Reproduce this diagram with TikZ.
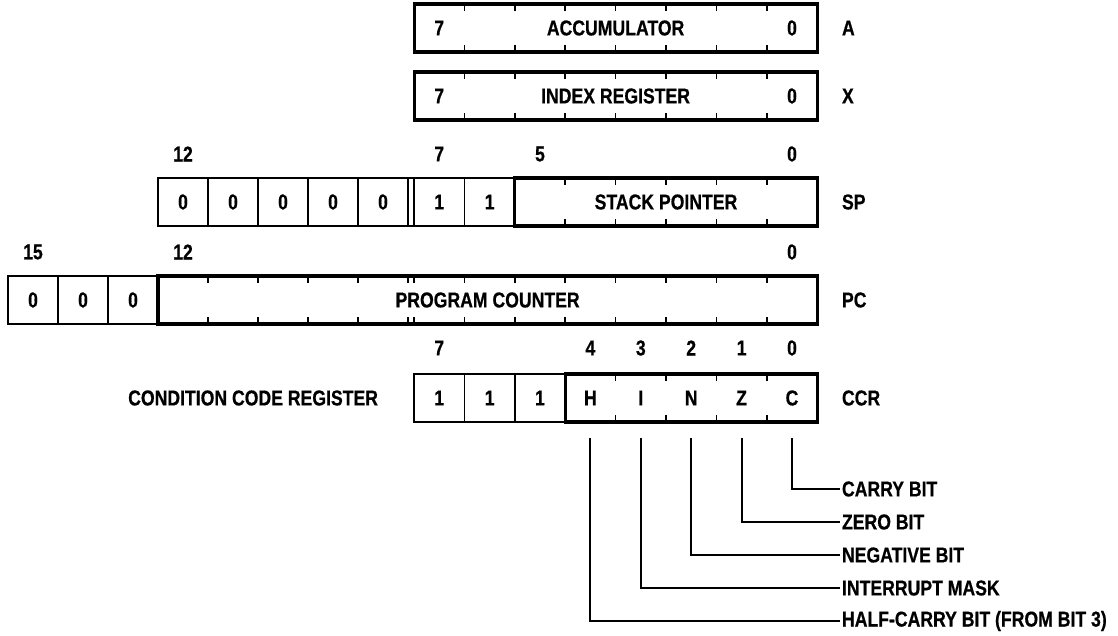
\documentclass[tikz,border=0pt]{standalone}
\usepackage{fontspec}
\setmainfont{Liberation Sans}[FakeStretch=0.82, BoldFeatures={FakeBold=0.6}]
\begin{document}
\begin{tikzpicture}[x=1pt,y=-1pt,
  txt/.style={font=\fontsize{21.5}{24}\selectfont\bfseries, inner sep=0pt, outer sep=0pt},
  cell/.style={txt, draw, line width=1.6pt, minimum width=50.4pt, minimum height=48pt},
  regbox/.style={txt, draw, line width=3.2pt, minimum height=48pt},
  slot/.style={txt, minimum width=50.4pt, minimum height=48pt},
  tick/.style={line width=1.6pt},
  conn/.style={line width=2pt},
  lbl/.style={txt, anchor=west, inner sep=2pt}]
\useasboundingbox (0,0) rectangle (1118,636);

% ---------- Accumulator ----------
\node[regbox, minimum width=403pt] (acc) at (615.6,28) {ACCUMULATOR};
\node[slot] (acc7) at (439.2,28) {7};
\node[slot] (acc0) at (792,28) {0};
\foreach \i in {1,...,7}{
  \draw[tick] (414+50.4*\i,4) -- ++(0,7);
  \draw[tick] (414+50.4*\i,52) -- ++(0,-7);
}
\node[lbl] (nA) at (840,28) {A};

% ---------- Index register ----------
\node[regbox, minimum width=403pt] (idx) at (615.6,96) {INDEX REGISTER};
\node[slot] (idx7) at (439.2,96) {7};
\node[slot] (idx0) at (792,96) {0};
\foreach \i in {1,...,7}{
  \draw[tick] (414+50.4*\i,72) -- ++(0,7);
  \draw[tick] (414+50.4*\i,120) -- ++(0,-7);
}
\node[lbl] (nX) at (840,96) {X};

% ---------- Stack pointer ----------
\node[txt] (sl12) at (183,154) {12};
\node[txt] (sl7) at (439.2,154) {7};
\node[txt] (sl5) at (540,154) {5};
\node[txt] (sl0) at (792,154) {0};
\foreach \b/\xx in {12/183,11/233,10/283,9/333,8/383}{
  \node[cell, minimum width=50pt] (sp\b) at (\xx,202) {0};
}
\node[cell] (sp7) at (439.2,202) {1};
\node[cell] (sp6) at (489.6,202) {1};
\draw[line width=1.6pt] (sp8.north east) -- (sp7.north west);
\draw[line width=1.6pt] (sp8.south east) -- (sp7.south west);
\node[regbox, minimum width=302.4pt] (spm) at (666,202) {STACK POINTER};
\foreach \i in {1,...,5}{
  \draw[tick] (514.8+50.4*\i,178) -- ++(0,7);
  \draw[tick] (514.8+50.4*\i,226) -- ++(0,-7);
}
\node[lbl] (nSP) at (840,202) {SP};

% ---------- Program counter ----------
\node[txt] (pl15) at (33,252) {15};
\node[txt] (pl12) at (183,252) {12};
\node[txt] (pl0) at (792,252) {0};
\foreach \b/\xx in {15/33,14/83,13/133}{
  \node[cell, minimum width=50pt] (pc\b) at (\xx,300) {0};
}
\node[regbox, minimum width=659.2pt] (pcm) at (487.6,300) {PROGRAM COUNTER};
\foreach \xx in {208,258,308,358,408,414,464.4,514.8,565.2,615.6,666,716.4,766.8}{
  \draw[tick] (\xx,276) -- ++(0,7);
  \draw[tick] (\xx,324) -- ++(0,-7);
}
\node[lbl] (nPC) at (840,300) {PC};

% ---------- Condition code register ----------
\node[txt] (cl7) at (439.2,348) {7};
\node[txt] (cl4) at (590.4,348) {4};
\node[txt] (cl3) at (640.8,348) {3};
\node[txt] (cl2) at (691.2,348) {2};
\node[txt] (cl1) at (741.6,348) {1};
\node[txt] (cl0) at (792,348) {0};
\node[txt, anchor=east] (ccrname) at (378,398) {CONDITION CODE REGISTER};
\node[cell] (cc7) at (439.2,398) {1};
\node[cell] (cc6) at (489.6,398) {1};
\node[cell] (cc5) at (540,398) {1};
\node[regbox, minimum width=252pt] (ccm) at (691.2,398) {};
\foreach \i in {1,...,4}{
  \draw[tick] (565.2+50.4*\i,374) -- ++(0,7);
  \draw[tick] (565.2+50.4*\i,422) -- ++(0,-7);
}
\node[slot] (h) at (590.4,398) {H};
\node[slot] (i) at (640.8,398) {I};
\node[slot] (n) at (691.2,398) {N};
\node[slot] (z) at (741.6,398) {Z};
\node[slot] (c) at (792,398) {C};
\node[lbl] (nCCR) at (840,398) {CCR};

% ---------- Bit descriptions ----------
\node[lbl] (lc) at (840,489) {CARRY BIT};
\node[lbl] (lz) at (840,522) {ZERO BIT};
\node[lbl] (ln) at (840,555) {NEGATIVE BIT};
\node[lbl] (li) at (840,588) {INTERRUPT MASK};
\node[lbl] (lh) at (840,621) {HALF-CARRY BIT (FROM BIT 3)};
\draw[conn] ([yshift=-16pt]c.south) |- (lc.west);
\draw[conn] ([yshift=-16pt]z.south) |- (lz.west);
\draw[conn] ([yshift=-16pt]n.south) |- (ln.west);
\draw[conn] ([yshift=-16pt]i.south) |- (li.west);
\draw[conn] ([yshift=-16pt]h.south) |- (lh.west);
\end{tikzpicture}
\end{document}
